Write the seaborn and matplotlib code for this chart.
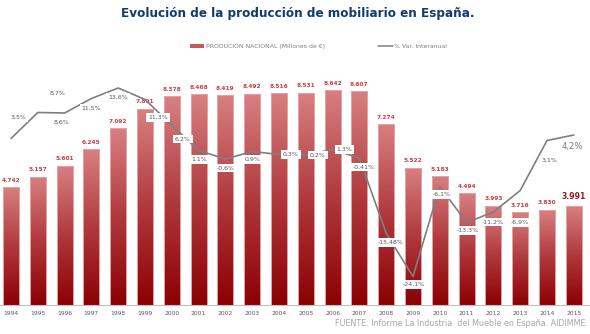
import numpy as np
import pandas as pd
import matplotlib
matplotlib.use("Agg")
import matplotlib.pyplot as plt
import seaborn as sns
from matplotlib.colors import LinearSegmentedColormap
from matplotlib.patches import Rectangle
from matplotlib.lines import Line2D

# --- data -------------------------------------------------------------
years = [str(y) for y in range(1994, 2016)]
produccion = [4742, 5157, 5601, 6245, 7092, 7891, 8378, 8468, 8419, 8492, 8516,
              8531, 8642, 8607, 7274, 5522, 5183, 4494, 3993, 3716, 3830, 3991]
variacion = [3.5, 8.7, 8.6, 11.5, 13.6, 11.3, 6.2, 1.1, -0.6, 0.9, 0.3,
             0.2, 1.3, -0.41, -15.48, -24.1, -6.1, -13.3, -11.2, -6.9, 3.1, 4.2]
var_labels = ["3,5%", "8,7%", "8,6%", "11,5%", "13,6%", "11,3%", "6,2%", "1,1%",
              "-0,6%", "0,9%", "0,3%", "0,2%", "1,3%", "-0,41%", "-15,48%", "-24,1%",
              "-6,1%", "-13,3%", "-11,2%", "-6,9%", "3,1%", "4,2%"]
prod_labels = ["4.742", "5.157", "5.601", "6.245", "7.092", "7.891", "8.378", "8.468",
               "8.419", "8.492", "8.516", "8.531", "8.642", "8.607", "7.274", "5.522",
               "5.183", "4.494", "3.993", "3.716", "3.830", "3.991"]

# label offsets (in pixels) for the % annotations relative to each line point
lbl_dx = [7, 20, -3, 0, 0, 13, 11, 1, 0, 0, 12, 12, 12, 4, 4, 1, 2, 1, -1, 0, 2, -1]
lbl_dy = [21, 19, -9, -9.5, -9, -18, -14, -9, -9, -8, 0, 0, 0, -9, -9, -8, -8, -8, -10, -32, -20, -11]

df = pd.DataFrame({"year": years, "prod": produccion, "var": variacion})

# --- figure -------------------------------------------------------------
W, H = 590, 334
fig = plt.figure(figsize=(W / 100, H / 100), dpi=100)
sns.set_style("white")
plt.rcParams["font.family"] = ["DejaVu Sans"]

ax_top_px, ax_bot_px = 60, 305
ax = fig.add_axes([0, (H - ax_bot_px) / H, 1, (ax_bot_px - ax_top_px) / H])

sns.barplot(data=df, x="year", y="prod", ax=ax, width=0.6, color="#c0504d",
            saturation=1, zorder=2)

cmap = LinearSegmentedColormap.from_list("bar", ["#8c0003", "#b0393d", "#d98082"])
grad = np.linspace(0, 1, 256).reshape(-1, 1)
for p in ax.patches:
    x0, w, h = p.get_x(), p.get_width(), p.get_height()
    im = ax.imshow(grad, extent=[x0, x0 + w, 0, h], origin="lower", cmap=cmap,
                   aspect="auto", zorder=2, interpolation="bilinear")
    im.set_clip_path(p)
    p.set_facecolor("none")
    p.set_edgecolor("#e7a3a4")
    p.set_linewidth(0.7)
    p.set_zorder(3)

xlim = (-11 / 26.8, (W - 11) / 26.8)
ax.set_xlim(*xlim)
ax.set_ylim(0, (ax_bot_px - ax_top_px) / 0.0249)

# value labels above bars
for i, (v, t) in enumerate(zip(produccion, prod_labels)):
    last = i == len(produccion) - 1
    ax.annotate(t, (i, v), xytext=(0, 3.5 if last else 3), textcoords="offset points",
                ha="center", va="bottom", fontsize=5.6 if last else 4.2,
                fontweight="bold", color="#8e1b1f" if last else "#cf3d43", zorder=5)

for s in ["top", "left", "right"]:
    ax.spines[s].set_visible(False)
ax.spines["bottom"].set_color("#bfbfbf")
ax.spines["bottom"].set_linewidth(0.8)
ax.set_yticks([])
ax.set_xlabel("")
ax.set_ylabel("")
ax.tick_params(axis="x", which="major", length=0, labelsize=4.3, labelcolor="#595959", pad=4)
ax.set_xticks(np.arange(len(years) - 1) + 0.5, minor=True)
ax.tick_params(axis="x", which="minor", length=3, direction="inout", color="#bfbfbf", width=0.6)

# --- % variation line ----------------------------------------------------
ax2 = ax.twinx()
xs = np.arange(len(years))
sns.lineplot(x=xs, y=variacion, ax=ax2, color="#7f7f7f", linewidth=1.2, zorder=4)
ax2.set_xlim(*xlim)
zero_px = 156
ax2.set_ylim(-(ax_bot_px - zero_px) / 5.0, (zero_px - ax_top_px) / 5.0)
ax2.axis("off")

for i, (v, t) in enumerate(zip(variacion, var_labels)):
    last = i == len(variacion) - 1
    ax2.annotate(t, (i, v), xytext=(lbl_dx[i] * 0.72, lbl_dy[i] * 0.72),
                 textcoords="offset points", ha="center", va="center",
                 fontsize=6.1 if last else 4.5, color="#7f7f7f" if last else "#595959",
                 bbox=dict(boxstyle="square,pad=0.3", fc="white", ec="none"),
                 zorder=6)

# --- title, legend and source ---------------------------------------------
fig.text(298 / W, 1 - 13 / H, "Evolución de la producción de mobiliario en España.",
         ha="center", va="center", fontsize=8.65, fontweight="bold", color="#123c6e")

leg_y = 1 - 46 / H
fig.patches.append(Rectangle((190 / W, leg_y - 1.5 / H), 14 / W, 3 / H,
                             transform=fig.transFigure, facecolor="#c4585a",
                             edgecolor="none"))
fig.text(206 / W, leg_y, "PRODUCIÓN NACIONAL (Millones de €)", ha="left", va="center",
         fontsize=4.4, color="#7f7f7f")
fig.lines.append(Line2D([378 / W, 393 / W], [leg_y, leg_y], transform=fig.transFigure,
                        color="#7f7f7f", linewidth=1.1))
fig.text(394 / W, leg_y, "% Var. Interanual", ha="left", va="center",
         fontsize=4.4, color="#7f7f7f")

fig.text(588 / W, 1 - 324 / H, "FUENTE: Informe La Industria  del Mueble en España. AIDIMME.",
         ha="right", va="center", fontsize=5.8, color="#a6a6a6")

fig.savefig("out.png", dpi=100, facecolor="white")
